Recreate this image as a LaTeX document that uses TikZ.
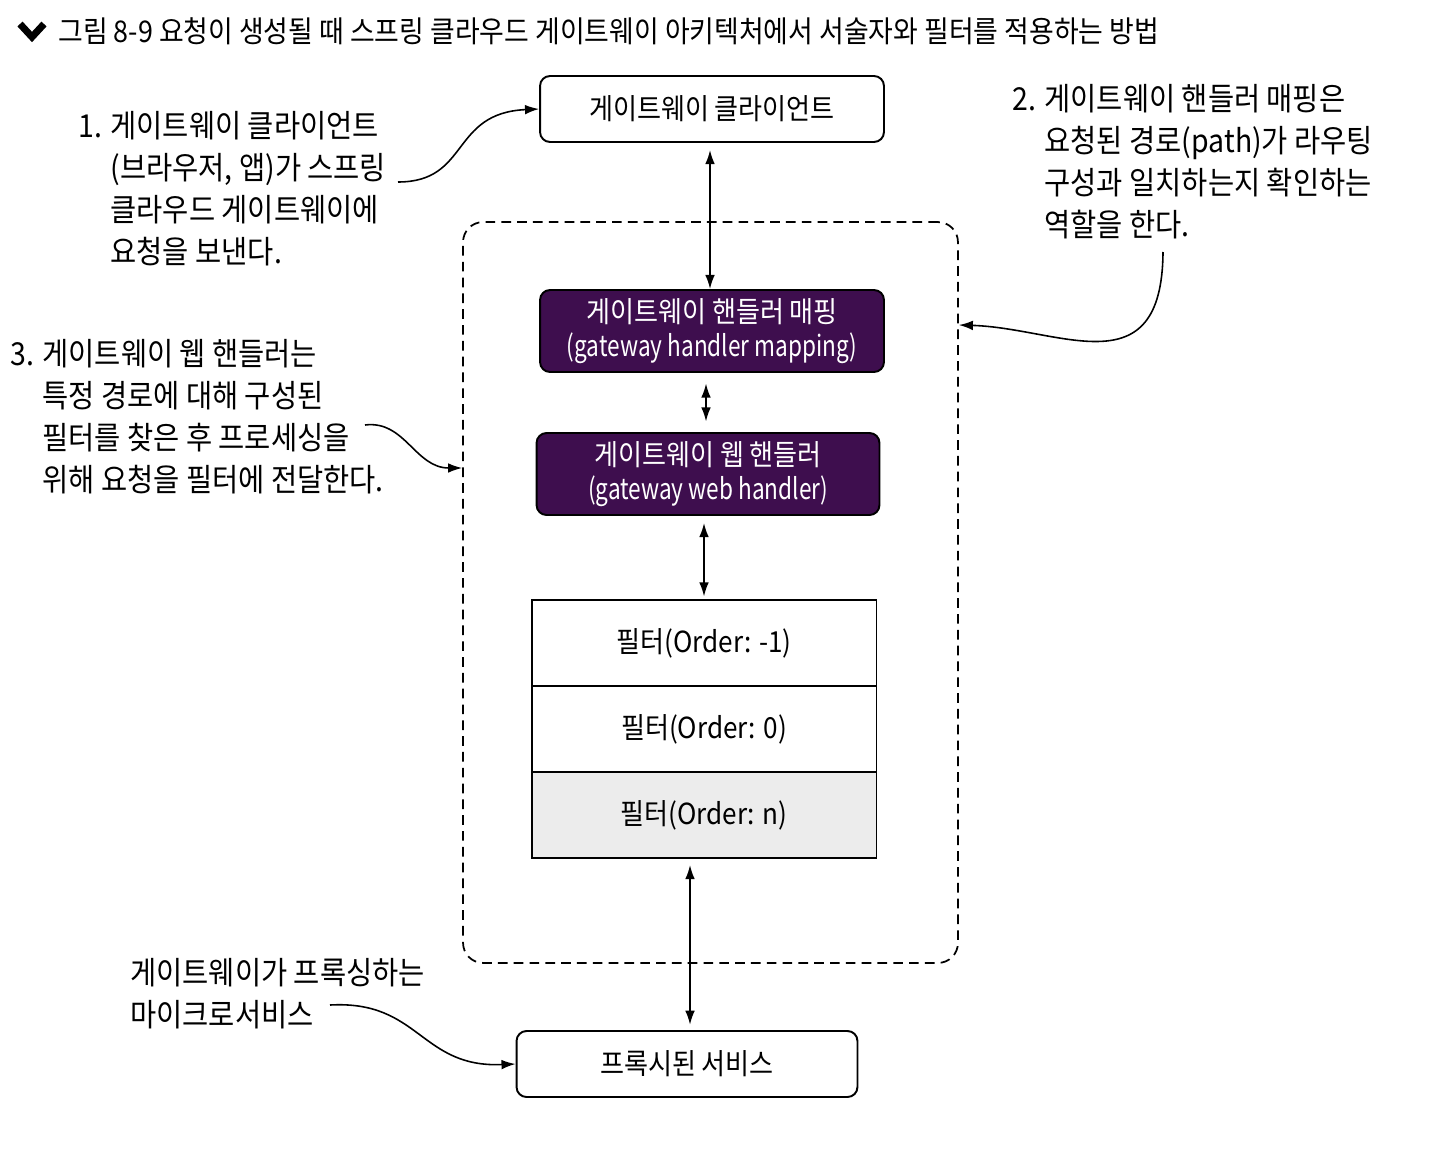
\documentclass[tikz,border=0pt]{standalone}
\usepackage{fontspec}
\setmainfont[FakeStretch=0.9]{Noto Sans CJK KR}
\newfontfamily\narrowlatin[FakeStretch=0.78]{Noto Sans CJK KR}
\usepackage{xcolor}
\usepackage{tikz}
\usetikzlibrary{positioning,arrows.meta}
\definecolor{handlerpurple}{RGB}{62, 14, 78}
\definecolor{lastgray}{RGB}{236, 236, 236}

\begin{document}
\begin{tikzpicture}[x=0.02cm, y=-0.02cm,
        box/.style = {draw=black, line width=1.1pt, rounded corners=2mm, inner sep=0pt,
            minimum width=6.88cm, minimum height=1.32cm, font=\fontsize{16.5pt}{19.5pt}\selectfont},
        hbox/.style = {box, fill=handlerpurple, text=white, align=center, minimum height=1.64cm},
        filt/.style = {draw=black, line width=1.1pt, inner sep=0pt, outer sep=0pt, minimum width=6.9cm,
            minimum height=1.72cm, font=\fontsize{16.5pt}{19.5pt}\selectfont},
        frame/.style = {draw=black, line width=1pt, dash pattern=on 5.5pt off 3.5pt,
            rounded corners=4mm, minimum width=9.9cm, minimum height=14.82cm},
        note/.style = {anchor=north west, inner sep=0pt, align=left,
            font=\fontsize{18pt}{23.9pt}\selectfont},
        link/.style = {line width=1pt, {Latex[length=8pt,width=5.5pt]}-{Latex[length=8pt,width=5.5pt]}},
        call/.style = {line width=0.9pt, -{Latex[length=8pt,width=5.5pt]}}]
    \useasboundingbox (0,0) rectangle (1442,1162);

    \draw[line width=4pt] (20,24) -- (32,37) -- (44,24);
    \node[anchor=west, inner sep=0pt, font=\fontsize{17pt}{19pt}\selectfont] (title) at (58,31)
        {그림 8-9 요청이 생성될 때 스프링 클라우드 게이트웨이 아키텍처에서 서술자와 필터를 적용하는 방법};

    \node[frame] (gw) at (710.5,592.5) {};
    \node[box] (client) at (712,109) {게이트웨이 클라이언트};
    \node[hbox] (mapping) at (712,331) {게이트웨이 핸들러 매핑\\{\narrowlatin (gateway handler mapping)}};
    \node[hbox, minimum width=6.86cm] (web) at (708,474) {게이트웨이 웹 핸들러\\{\narrowlatin (gateway web handler)}};
    \node[filt] (f1) at (704,643) {필터(Order: -1)};
    \node[filt, below=0cm of f1] (f2) {필터(Order: 0)};
    \node[filt, fill=lastgray, below=0cm of f2] (fn) {필터(Order: n)};
    \node[box, minimum width=6.82cm] (service) at (687,1064) {프록시된 서비스};

    \draw[link, shorten <=4pt] (client.south -| 710,0) -- (mapping.north -| 710,0);
    \draw[link, shorten <=6pt, shorten >=6pt] (mapping.south -| 706,0) -- (web.north -| 706,0);
    \draw[link, shorten <=4pt, shorten >=2pt] (web.south -| 704,0) -- (f1.north -| 704,0);
    \draw[link, shorten <=4pt, shorten >=3pt] (fn.south -| 690,0) -- (service.north -| 690,0);

    \node[note] (note1) at (78,111) {1. 게이트웨이 클라이언트\\\phantom{1. }(브라우저, 앱)가 스프링\\\phantom{1. }클라우드 게이트웨이에\\\phantom{1. }요청을 보낸다.};
    \node[note] (note2) at (1012,84) {2. 게이트웨이 핸들러 매핑은\\\phantom{2. }요청된 경로(path)가 라우팅\\\phantom{2. }구성과 일치하는지 확인하는\\\phantom{2. }역할을 한다.};
    \node[note] (note3) at (10,339) {3. 게이트웨이 웹 핸들러는\\\phantom{3. }특정 경로에 대해 구성된\\\phantom{3. }필터를 찾은 후 프로세싱을\\\phantom{3. }위해 요청을 필터에 전달한다.};
    \node[note] (note4) at (130,958) {게이트웨이가 프록싱하는\\마이크로서비스};

    \coordinate (n1) at (398,182);
    \coordinate (n2) at (1163,252);
    \coordinate (n3) at (365,425);
    \coordinate (n4) at (330,1005);
    \draw[call] (n1) .. controls (470,182) and (450,113) .. (client.west);
    \draw[call] (n2) .. controls (1162,390) and (1060,328) .. (gw.east |- 0,325);
    \draw[call] (n3) .. controls (405,420) and (415,468) .. (gw.west |- 0,468);
    \draw[call] (n4) .. controls (420,1000) and (420,1068) .. (service.west);
\end{tikzpicture}
\end{document}
